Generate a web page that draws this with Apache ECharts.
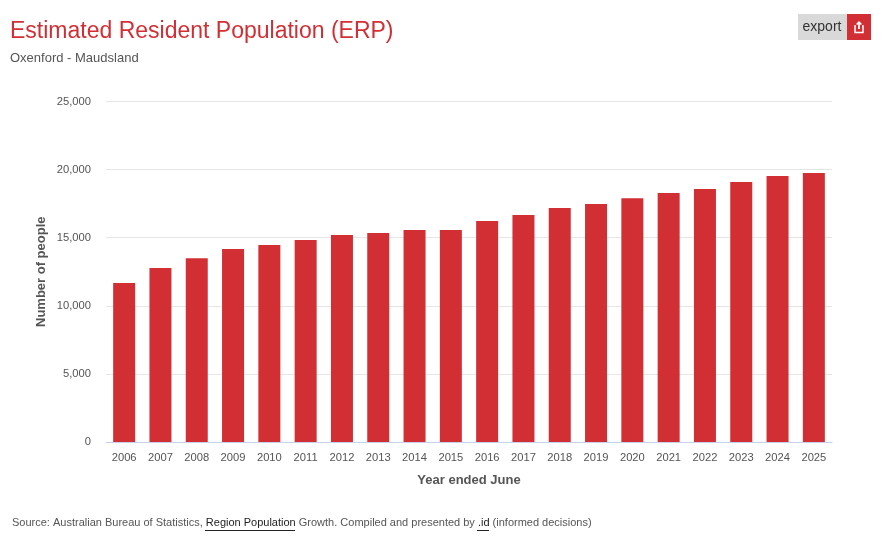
<!DOCTYPE html>
<html><head><meta charset="utf-8">
<style>html,body{margin:0;padding:0;background:#fff}#c{width:884px;height:541px}</style>
<script src="https://cdn.jsdelivr.net/npm/echarts@6/dist/echarts.min.js"></script>
</head><body><div id="c"></div>
<script>
const years=['2006','2007','2008','2009','2010','2011','2012','2013','2014','2015','2016','2017','2018','2019','2020','2021','2022','2023','2024','2025'];
const population=[11670,12775,13500,14170,14460,14830,15200,15350,15560,15560,16230,16670,17180,17470,17900,18280,18580,19090,19530,19750];
const yTicks=[0,5000,10000,15000,20000,25000];
const FONT='"Liberation Sans",Arial,sans-serif';
const RED='#d22f35';
const chart=echarts.init(document.getElementById('c'),null,{renderer:'canvas'});
chart.setOption({
  animation:false,
  backgroundColor:'#fff',
  textStyle:{fontFamily:FONT},
  title:{text:'Estimated Resident Population (ERP)',left:10,top:20,padding:0,
    textStyle:{color:RED,fontSize:23,fontWeight:'normal',fontFamily:FONT},
    subtext:'Oxenford - Maudsland',subtextStyle:{color:'#555',fontSize:13,fontFamily:FONT},itemGap:9},
  grid:{left:106,right:52,top:101.5,bottom:99,containLabel:false},
  xAxis:{type:'category',data:years,name:'Year ended June',nameLocation:'middle',nameGap:32,
    nameTextStyle:{color:'#555',fontSize:13,fontWeight:'bold',fontFamily:FONT},
    axisLine:{lineStyle:{color:'#c5d3e8',width:1}},axisTick:{show:false},
    axisLabel:{color:'#555',fontSize:11.2,margin:10,interval:0,fontFamily:FONT}},
  yAxis:{type:'value',min:0,max:yTicks[yTicks.length-1],interval:5000,
    name:'Number of people',nameLocation:'middle',nameGap:58,nameMoveOverlap:false,
    nameTextStyle:{color:'#555',fontSize:13,fontWeight:'bold',fontFamily:FONT},
    axisLine:{show:false},axisTick:{show:false},
    splitLine:{lineStyle:{color:'#e6e6e6',width:1}},
    axisLabel:{color:'#555',fontSize:11.2,margin:15,fontFamily:FONT,
      formatter:v=>v.toLocaleString('en-US')}},
  series:[{type:'bar',data:population,barWidth:22,itemStyle:{color:RED}}],
  graphic:[
    {type:'rect',shape:{x:798,y:14,width:49,height:26},style:{fill:'#d9d9d9'}},
    {type:'text',x:822,y:27,style:{text:'export',fill:'#333',font:'14px "Liberation Sans"',textAlign:'center',textVerticalAlign:'middle'}},
    {type:'rect',shape:{x:847,y:14,width:24,height:26},style:{fill:RED}},
    {type:'polyline',shape:{points:[[856,26],[855,26],[855,32.5],[863,32.5],[863,26],[862,26]]},style:{fill:null,stroke:'#fff',lineWidth:1.5}},
    {type:'polyline',shape:{points:[[859,29],[859,22.5]]},style:{fill:null,stroke:'#fff',lineWidth:1.8}},
    {type:'polyline',shape:{points:[[856.6,24.6],[859,22],[861.4,24.6]]},style:{fill:null,stroke:'#fff',lineWidth:1.5}},
    {type:'text',x:12,y:523,style:{text:'Source: Australian Bureau of Statistics, {l|Region Population} Growth. Compiled and presented by {l|.id} (informed decisions)',
      rich:{l:{fill:'#222',font:'11px "Liberation Sans"'}},fill:'#555',font:'11px "Liberation Sans"',textVerticalAlign:'middle'}},
    {type:'line',shape:{x1:205,y1:530.5,x2:295,y2:530.5},style:{stroke:'#222',lineWidth:1}},
    {type:'line',shape:{x1:477,y1:530.5,x2:489,y2:530.5},style:{stroke:'#222',lineWidth:1}}
  ]
});
</script></body></html>
